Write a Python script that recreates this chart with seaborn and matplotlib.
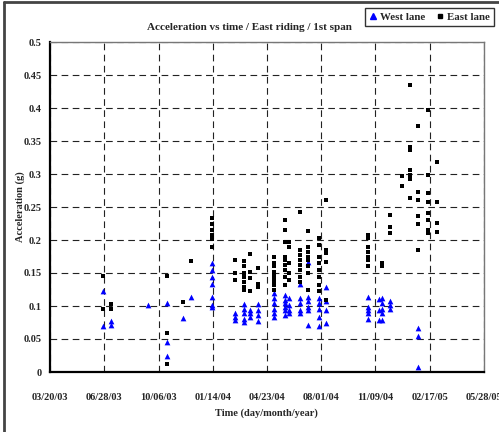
import numpy as np
import pandas as pd
import matplotlib
matplotlib.use("Agg")
import matplotlib.pyplot as plt
import matplotlib.dates as mdates
from matplotlib.lines import Line2D
import seaborn as sns

# ---------------- data ----------------
west_dates = (
    ["2003-06-25"] * 2 + ["2003-07-11"] * 2 + ["2003-09-16"] + ["2003-10-21"] * 3 +
    ["2003-11-21"] + ["2003-12-05"] + ["2004-01-12"] * 7 + ["2004-02-24"] * 3 +
    ["2004-03-12"] * 5 + ["2004-03-23"] * 3 + ["2004-04-07"] * 4 + ["2004-05-06"] * 6 +
    ["2004-05-26"] * 6 + ["2004-06-03"] * 4 + ["2004-06-23"] * 5 + ["2004-07-08"] * 6 +
    ["2004-07-29"] * 5 + ["2004-08-10"] * 4 + ["2004-10-26"] * 5 + ["2004-11-16"] * 3 +
    ["2004-11-22"] * 5 + ["2004-12-06"] * 3 + ["2005-01-26"] * 3
)
west_values = [
    0.122, 0.070,
    0.078, 0.071,
    0.101,
    0.105, 0.045, 0.025,
    0.082,
    0.114,
    0.165, 0.155, 0.144, 0.133, 0.113, 0.102, 0.098,
    0.089, 0.084, 0.079,
    0.103, 0.096, 0.089, 0.081, 0.076,
    0.094, 0.089, 0.084,
    0.103, 0.094, 0.086, 0.078,
    0.119, 0.112, 0.104, 0.096, 0.089, 0.083,
    0.117, 0.109, 0.104, 0.099, 0.094, 0.086,
    0.112, 0.101, 0.094, 0.089,
    0.134, 0.112, 0.104, 0.094, 0.089,
    0.166, 0.114, 0.107, 0.099, 0.094, 0.071,
    0.112, 0.104, 0.096, 0.084, 0.069,
    0.129, 0.107, 0.094, 0.074,
    0.114, 0.099, 0.094, 0.089, 0.081,
    0.110, 0.094, 0.079,
    0.112, 0.104, 0.096, 0.089, 0.079,
    0.107, 0.101, 0.096,
    0.066, 0.054, 0.007,
]

east_dates = (
    ["2003-06-25"] * 2 + ["2003-07-11"] * 2 + ["2003-10-21"] * 3 + ["2003-11-21"] +
    ["2003-12-05"] + ["2004-01-12"] * 6 + ["2004-02-24"] * 3 + ["2004-03-12"] * 7 +
    ["2004-03-23"] * 4 + ["2004-04-07"] * 3 + ["2004-05-06"] * 9 + ["2004-05-26"] * 9 +
    ["2004-06-03"] * 5 + ["2004-06-23"] * 8 + ["2004-07-08"] * 8 + ["2004-07-29"] * 8 +
    ["2004-08-10"] * 5 + ["2004-10-26"] * 7 + ["2004-11-22"] * 2 + ["2004-12-06"] * 3 +
    ["2004-12-28"] * 2 + ["2005-01-12"] * 7 + ["2005-01-26"] * 6 + ["2005-02-15"] * 8 +
    ["2005-03-02"] * 4
)
east_values = [
    0.146, 0.095,
    0.103, 0.095,
    0.145, 0.059, 0.012,
    0.106,
    0.168,
    0.233, 0.225, 0.215, 0.208, 0.202, 0.189,
    0.170, 0.150, 0.140,
    0.168, 0.161, 0.150, 0.144, 0.137, 0.129, 0.125,
    0.179, 0.152, 0.142, 0.122,
    0.157, 0.134, 0.129,
    0.175, 0.165, 0.160, 0.152, 0.147, 0.142, 0.137, 0.132, 0.124,
    0.230, 0.215, 0.197, 0.175, 0.170, 0.162, 0.155, 0.144, 0.132,
    0.197, 0.190, 0.165, 0.150, 0.140,
    0.243, 0.185, 0.177, 0.170, 0.162, 0.155, 0.144, 0.137,
    0.214, 0.190, 0.182, 0.175, 0.170, 0.160, 0.150, 0.124,
    0.203, 0.192, 0.175, 0.165, 0.155, 0.144, 0.132, 0.122,
    0.261, 0.185, 0.180, 0.167, 0.109,
    0.208, 0.203, 0.190, 0.182, 0.175, 0.170, 0.161,
    0.165, 0.160,
    0.238, 0.220, 0.210,
    0.297, 0.282,
    0.435, 0.341, 0.337, 0.306, 0.298, 0.293, 0.263,
    0.372, 0.273, 0.260, 0.236, 0.224, 0.185,
    0.397, 0.298, 0.271, 0.257, 0.241, 0.230, 0.215, 0.210,
    0.318, 0.257, 0.226, 0.212,
]

x_ticks = ["2003-03-20", "2003-06-28", "2003-10-06", "2004-01-14", "2004-04-23",
           "2004-08-01", "2004-11-09", "2005-02-17", "2005-05-28"]
y_ticks = [0, 0.05, 0.1, 0.15, 0.2, 0.25, 0.3, 0.35, 0.4, 0.45, 0.5]
y_tick_labels = ["0", "0.05", "0.1", "0.15", "0.2", "0.25", "0.3", "0.35", "0.4", "0.45", "0.5"]

title = "Acceleration vs time / East riding / 1st span"
series_names = ["West lane", "East lane"]

# ---------------- plot ----------------
sns.set_style("white")
plt.rcParams["font.family"] = ["Liberation Serif", "DejaVu Serif"]
plt.rcParams["font.weight"] = "bold"

df_w = pd.DataFrame({"date": pd.to_datetime(west_dates), "accel": west_values})
df_e = pd.DataFrame({"date": pd.to_datetime(east_dates), "accel": east_values})

fig = plt.figure(figsize=(4.99, 4.32), dpi=100)
ax = fig.add_axes([50.1 / 499, 1 - 372 / 432, (483.7 - 50.1) / 499, (372 - 42) / 432])

sns.scatterplot(data=df_w, x="date", y="accel", marker="^", color="#0000FF",
                s=17, linewidth=0, ax=ax, zorder=3)
sns.scatterplot(data=df_e, x="date", y="accel", marker="s", color="black",
                s=10, linewidth=0, ax=ax, zorder=3)

xt = pd.to_datetime(x_ticks)
ax.set_xlim(xt[0], xt[-1])
ax.set_xticks(xt)
ax.xaxis.set_major_formatter(mdates.DateFormatter("%m/%d/%y"))
ax.set_ylim(0, 0.5)
ax.set_yticks(y_ticks)
ax.set_yticklabels(y_tick_labels)

ax.grid(True, color="#222222", linestyle=(0, (6, 4)), linewidth=0.8)
ax.set_axisbelow(True)
ax.tick_params(axis="both", length=0, labelsize=7.5)
ax.tick_params(axis="x", pad=15)
ax.tick_params(axis="y", pad=6)
for lab in ax.get_xticklabels() + ax.get_yticklabels():
    lab.set_fontweight("bold")

for side in ["left", "bottom"]:
    ax.spines[side].set_color("black")
    ax.spines[side].set_linewidth(1.6)
for side in ["top", "right"]:
    ax.spines[side].set_color("#777777")
    ax.spines[side].set_linewidth(1.0)

ax.set_xlabel("Time (day/month/year)", fontsize=7.5, fontweight="bold", labelpad=5)
ax.set_ylabel("Acceleration (g)", fontsize=7.5, fontweight="bold", labelpad=-1)

fig.text(352 / 499, 1 - 27 / 432, title, ha="right", va="center",
         fontsize=8, fontweight="bold")

handles = [
    Line2D([], [], marker="^", color="#0000FF", linestyle="none", markersize=3.8),
    Line2D([], [], marker="s", color="black", linestyle="none", markersize=3.0),
]
leg = fig.legend(handles, series_names, loc="upper right", ncol=2,
                 bbox_to_anchor=(494 / 499, 1 - 8 / 432), bbox_transform=fig.transFigure,
                 frameon=True, fancybox=False, edgecolor="black",
                 handlelength=0.7, handletextpad=0.3, columnspacing=1.0,
                 borderpad=0.4, borderaxespad=0,
                 prop={"weight": "bold", "size": 7.8})
leg.get_frame().set_linewidth(1.0)

# figure border (left and top)
fig.add_artist(Line2D([3.5 / 499, 3.5 / 499], [0, 1 - 1.5 / 432], transform=fig.transFigure,
                      color="#444444", linewidth=2))
fig.add_artist(Line2D([3.5 / 499, 1], [1 - 1.5 / 432, 1 - 1.5 / 432], transform=fig.transFigure,
                      color="#444444", linewidth=2))

fig.savefig("out.png", dpi=100)
